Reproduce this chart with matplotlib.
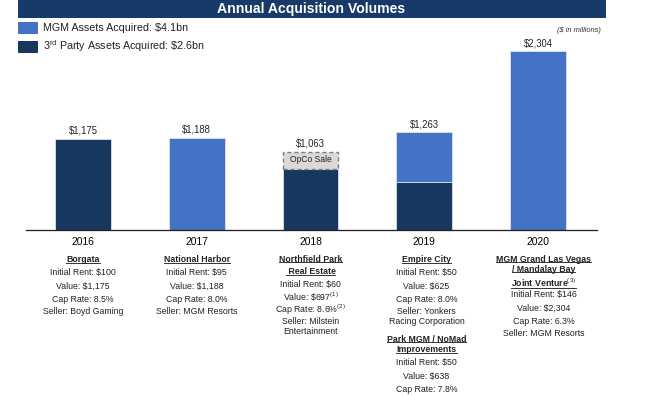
import matplotlib.pyplot as plt
import numpy as np
from matplotlib.patches import Rectangle
from matplotlib.lines import Line2D
from matplotlib.transforms import Affine2D, blended_transform_factory

plt.rcParams['font.family'] = ['Liberation Sans', 'DejaVu Sans']
plt.rcParams['mathtext.fontset'] = 'custom'
plt.rcParams['mathtext.rm'] = 'Liberation Sans'
plt.rcParams['mathtext.it'] = 'Liberation Sans:italic'
plt.rcParams['mathtext.bf'] = 'Liberation Sans:bold'

# data ($ in millions)
years = ['2016', '2017', '2018', '2019', '2020']
third_party = [1175, 0, 785, 625, 0]
mgm_assets = [0, 1188, 0, 638, 2304]
opco_sale = [0, 0, 225, 0, 0]
totals = ['$1,175', '$1,188', '$1,063', '$1,263', '$2,304']

legend_labels = ['MGM Assets Acquired: $4.1bn',
                 r'3$^{\rm rd}$ Party Assets Acquired: \$2.6bn']

# deal notes under each year: (text, is_heading, y position in px)
notes = [
    [('Borgata', True, 260), ('Initial Rent: $100', False, 273), ('Value: $1,175', False, 286),
     ('Cap Rate: 8.5%', False, 299), ('Seller: Boyd Gaming', False, 312)],
    [('National Harbor', True, 260), ('Initial Rent: $95', False, 273), ('Value: $1,188', False, 286),
     ('Cap Rate: 8.0%', False, 299), ('Seller: MGM Resorts', False, 312)],
    [('Northfield Park', True, 259), (' Real Estate', True, 272), ('Initial Rent: $60', False, 285),
     (r'Value: \$697$^{(1)}$', False, 297), (r'Cap Rate: 8.6%$^{(2)}$', False, 310),
     ('Seller: Milstein', False, 322), ('Entertainment', False, 332)],
    [('Empire City', True, 260), ('Initial Rent: $50', False, 273), ('Value: $625', False, 286),
     ('Cap Rate: 8.0%', False, 299), ('Seller: Yonkers', False, 312), ('Racing Corporation', False, 322),
     ('Park MGM / NoMad', True, 339), ('Improvements', True, 350), ('Initial Rent: $50', False, 363),
     ('Value: $638', False, 376), ('Cap Rate: 7.8%', False, 389)],
    [('MGM Grand Las Vegas', True, 259), ('/ Mandalay Bay', True, 269), (r'Joint Venture$^{(3)}$', True, 283),
     ('Initial Rent: $146', False, 295), ('Value: $2,304', False, 308), ('Cap Rate: 6.3%', False, 321),
     ('Seller: MGM Resorts', False, 334)],
]
note_x_shift = [0, 0, 0, 0.02, 0.05]

dark = '#17375e'
light = '#4472c4'
W, H = 648, 396

fig = plt.figure(figsize=(9, 5.5), dpi=72)
pix = Affine2D().scale(1 / W, -1 / H).translate(0, 1) + fig.transFigure

ax = fig.add_axes([26 / W, (H - 230) / H, 571 / W, 186 / H])
x = np.arange(len(years))
bw = 0.49


def edges(vals, c):
    # no outline on empty segments
    return [c if v > 0 else 'none' for v in vals]


ax.bar(x, third_party, bw, color=dark, edgecolor=edges(third_party, '#dde4ef'), linewidth=0.8)
ax.bar(x, mgm_assets, bw, bottom=third_party, color=light,
       edgecolor=edges(mgm_assets, '#dde4ef'), linewidth=0.8)
bottom2 = np.array(third_party) + np.array(mgm_assets)
ax.bar(x, opco_sale, bw, bottom=bottom2, color='#d9d9d9', edgecolor=edges(opco_sale, '#7f7f7f'),
       linewidth=1.4, linestyle=(0, (3, 2)))
tops = bottom2 + np.array(opco_sale)
for i in range(len(x)):
    ax.annotate(totals[i], (x[i], tops[i]), xytext=(0, 8), textcoords='offset points',
                ha='center', va='center', fontsize=9.5, color='#222222')
    if opco_sale[i] > 0:
        ax.text(x[i], bottom2[i] + opco_sale[i] * 0.55, 'OpCo Sale', ha='center', va='center',
                fontsize=8.5, color='#222222')

ax.set_xlim(-0.501, 4.519)
ax.set_ylim(0, 2400)
ax.set_xticks(x, years, fontsize=10.3)
ax.tick_params(axis='x', length=0, pad=7)
ax.set_yticks([])
for s in ['top', 'left', 'right']:
    ax.spines[s].set_visible(False)
ax.spines['bottom'].set_linewidth(1.3)
ax.spines['bottom'].set_color('#222222')

# title banner
fig.patches.append(Rectangle((18, 17), 587, -17, transform=pix, color='#183a68', zorder=0))
fig.text(311, 8.5, 'Annual Acquisition Volumes', transform=pix, ha='center', va='center',
         color='white', fontsize=14, fontweight='bold')

# legend
for k, (lab, col) in enumerate(zip(legend_labels, [light, dark])):
    y0 = 22.3 + k * 18.5
    fig.patches.append(Rectangle((18, y0 + 11), 19, -11, transform=pix, color=col))
    fig.text(43, y0 + 5.5, lab, transform=pix, ha='left', va='center', fontsize=10.8,
             color='#222222')

fig.text(601, 31, '($ in millions)', transform=pix, ha='right', va='center',
         fontsize=7.5, style='italic', color='#333333')

# notes under the columns
ytr = blended_transform_factory(ax.transData, pix)
headings = []
for i, col in enumerate(notes):
    for txt, head, yy in col:
        t = fig.text(x[i] + note_x_shift[i], yy, txt, transform=ytr, ha='center', va='center',
                     fontsize=8.8, fontweight='bold' if head else 'normal', color='#222222')
        if head:
            headings.append(t)

fig.canvas.draw()
r = fig.canvas.get_renderer()
for t in headings:
    bb = t.get_window_extent(r)
    yl = bb.y0 + 1.5
    fig.lines.append(Line2D([bb.x0 / W, bb.x1 / W], [yl / H, yl / H], transform=fig.transFigure,
                            color='#222222', linewidth=0.9))

fig.savefig('out.png', dpi=72)
